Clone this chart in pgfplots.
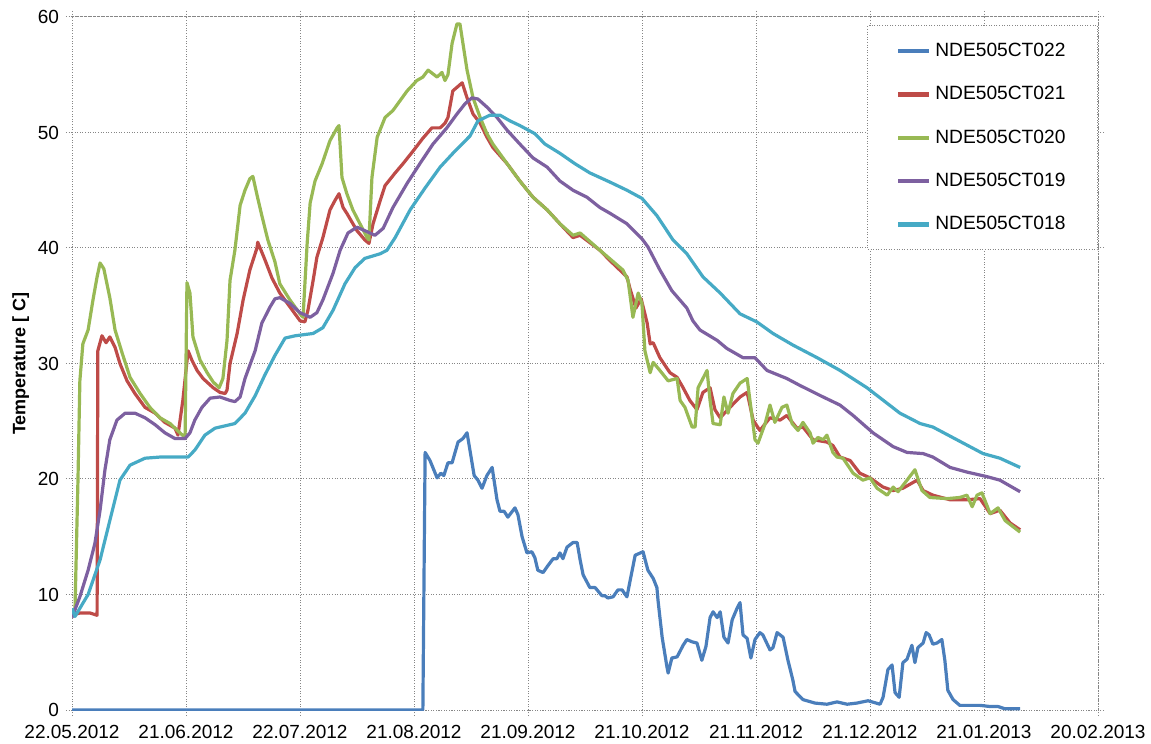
\documentclass[border=0pt]{standalone}
\usepackage{fontspec}
\setmainfont{Liberation Sans}
\usepackage{pgfplots}
\pgfplotsset{compat=1.18}
\definecolor{cBlue}{HTML}{4A7EBB}
\definecolor{cRed}{HTML}{BE4B48}
\definecolor{cGreen}{HTML}{98B954}
\definecolor{cPurple}{HTML}{7D60A0}
\definecolor{cAqua}{HTML}{46AAC5}
\definecolor{gridc}{RGB}{134,134,134}
\begin{document}
\begin{tikzpicture}
\begin{axis}[
  scale only axis,
  width=513pt, height=346.5pt,
  xmin=0, xmax=274, ymin=0, ymax=60,
  xtick={0,30.444,60.889,91.333,121.778,152.222,182.667,213.111,243.556,274},
  xticklabels={22.05.2012,21.06.2012,22.07.2012,21.08.2012,21.09.2012,21.10.2012,21.11.2012,21.12.2012,21.01.2013,20.02.2013},
  ytick={0,10,...,60},
  grid=major,
  grid style={draw=gridc, line width=0.5pt, dash pattern=on 0.5pt off 0.8pt},
  axis line style={draw=gridc, line width=0.5pt, dash pattern=on 0.5pt off 0.8pt},
  tick align=outside,
  major tick length=3pt,
  tick style={draw=gridc, line width=0.5pt, dash pattern=on 0.5pt off 0.8pt},
  /pgf/number format/assume math mode=true,
  tick label style={font=\fontsize{9.5}{11}\selectfont, text=black},
  xticklabel style={yshift=-1.2pt},
  ylabel={\textbf{Temperature [ C]}},
  y label style={at={(axis description cs:-0.05,0.5)}, anchor=center, font=\fontsize{9}{11}\selectfont},
  legend cell align=left,
  legend style={at={(1,0.988)}, anchor=north east, draw=gridc, line width=0.5pt, dash pattern=on 0.5pt off 0.8pt, fill=white,
    font=\fontsize{9.6}{11}\selectfont, inner xsep=14pt, inner ysep=6.5pt, row sep=9.5pt,
    /tikz/every odd column/.append style={column sep=0pt}},
  legend image code/.code={\draw[line width=2.2pt, solid] (0pt,0pt) -- (15.5pt,0pt);},
  every axis plot/.append style={line width=1.6pt, line join=round, solid},
]
% NDE505CT022
\addplot[cBlue] coordinates {
(0,0) (93.7,0) (94.3,22.3) (95.6,21.6) (97.5,20.1) (98.5,20.5) (99.3,20.3) (100.4,21.4) (101.5,21.4)
(103.1,23.2) (104.4,23.5) (105.5,24.0) (107.4,20.3) (108.4,19.9) (109.5,19.2) (110.8,20.3) (112.2,21.0)
(113.5,18.2) (114.3,17.2) (115.4,17.2) (116.4,16.7) (118.3,17.5) (119.1,16.9) (120.2,15.0) (121.5,13.6)
(122.8,13.7) (123.6,13.2) (124.4,12.1) (125.8,11.9) (127.1,12.5) (128.5,13.1) (129.5,13.1) (130.3,13.6)
(131.1,13.1) (132.2,14.1) (133.8,14.5) (134.9,14.5) (135.7,13.0) (136.5,11.7) (138.3,10.6) (139.7,10.6)
(141.5,9.9) (142.3,9.9) (143.1,9.7) (144.5,9.8) (145.8,10.4) (146.9,10.4) (148.2,9.8) (149.6,12.1)
(150.4,13.4) (152.5,13.7) (153.8,12.1) (155.2,11.4) (156.2,10.6) (156.5,9.5) (157.6,6.3) (158.9,3.7)
(159.2,3.2) (160.2,4.5) (161.6,4.6) (163.2,5.6) (164.2,6.1) (165.6,5.9) (166.9,5.8) (168.2,4.3)
(169.3,5.5) (170.4,8.0) (171.2,8.5) (172.3,8.0) (173.1,8.5) (174.1,6.3) (175.2,5.8) (176.3,7.8)
(177.6,8.8) (178.4,9.3) (179.2,6.5) (180.3,6.2) (181.3,4.5) (182.4,6.1) (183.7,6.7) (184.5,6.5)
(186.4,5.2) (187.2,5.4) (188.3,6.7) (189.9,6.3) (191.2,4.3) (192.5,2.6) (193.1,1.6) (195.2,0.9)
(198.4,0.6) (201.6,0.5) (204.3,0.7) (207.0,0.5) (209.6,0.6) (212.6,0.8) (215.8,0.5) (216.6,1.1)
(217.9,3.5) (219.0,3.9) (219.8,1.5) (220.9,1.1) (221.9,4.1) (223.0,4.4) (224.3,5.6) (225.1,4.1)
(225.9,5.4) (227.3,5.8) (228.1,6.7) (228.9,6.5) (229.9,5.7) (231.0,5.8) (232.3,6.1) (233.1,4.3)
(233.9,1.7) (235.3,0.9) (237.1,0.4) (242.5,0.4) (245.2,0.3) (247.3,0.3) (249.2,0.1) (253.2,0.1)
};
\addlegendentry{NDE505CT022}
% NDE505CT021
\addplot[cRed] coordinates {
(0,8.2) (2.1,8.4) (4.8,8.4) (6.7,8.2) (6.9,31.1) (8.0,32.4) (9.1,31.8) (10.1,32.3) (11.5,31.4)
(12.8,30.0) (14.7,28.5) (16.8,27.4) (19.5,26.2) (22.2,25.7) (24.8,24.9) (27.5,24.4) (28.3,23.8)
(29.6,26.8) (31.0,31.1) (32.0,30.3) (33.4,29.4) (35.0,28.7) (37.7,27.9) (39.5,27.5) (40.9,27.4)
(41.4,27.7) (42.2,30.0) (44.1,32.6) (45.7,35.5) (47.5,38.1) (49.4,40.0) (49.6,40.5) (51.5,39.0)
(53.4,37.4) (55.5,36.1) (58.2,34.9) (60.9,33.7) (62.2,33.6) (63.0,34.6) (64.4,37.2) (65.4,39.2)
(67.0,40.9) (68.9,43.3) (70.2,44.1) (71.3,44.7) (72.4,43.5) (73.4,43.0) (76.1,41.5) (78.2,40.7)
(79.3,40.4) (80.4,42.1) (82.3,44.1) (83.6,45.4) (86.3,46.5) (88.4,47.3) (91.1,48.4) (93.7,49.5)
(96.1,50.4) (98.3,50.4) (99.6,50.8) (100.4,51.3) (101.7,53.6) (104.2,54.3) (105.5,53.0) (107.1,51.6)
(109.0,50.8) (110.8,49.6) (112.4,48.7) (116.2,47.3) (119.6,45.8) (123.1,44.4) (126.9,43.3) (130.3,42.1)
(133.8,40.9) (135.7,41.1) (141.0,39.8) (143.7,38.9) (148.2,37.5) (149.0,36.5) (150.6,34.8) (152.0,35.6)
(153.6,33.5) (154.4,31.7) (155.2,31.8) (157.0,30.5) (159.7,29.2) (161.6,28.8) (163.2,27.9) (165.0,26.8)
(166.9,26.0) (168.5,27.5) (170.4,27.9) (171.7,26.0) (173.1,25.3) (175.7,26.2) (178.4,27.1) (180.3,27.5)
(181.9,25.1) (183.7,24.2) (186.4,25.3) (189.1,25.1) (190.9,25.5) (193.6,24.4) (195.2,24.5) (197.9,23.4)
(201.6,23.2) (203.2,22.9) (205.1,21.9) (207.8,21.6) (210.4,20.5) (213.1,20.1) (216.6,19.3) (219.3,19.0)
(221.9,19.2) (225.7,19.9) (227.3,19.0) (229.9,18.6) (234.5,18.2) (239.0,18.2) (242.5,18.3) (245.2,17.0)
(247.8,17.3) (250.5,16.2) (253.2,15.6)
};
\addlegendentry{NDE505CT021}
% NDE505CT020
\addplot[cGreen] coordinates {
(0,8.4) (0.8,8.7) (1.6,20.0) (2.1,28.5) (2.9,31.7) (4.3,32.9) (5.6,35.5) (6.7,37.5) (7.5,38.7)
(8.5,38.2) (10.1,35.7) (11.5,32.9) (13.4,30.9) (15.5,28.8) (18.2,27.4) (20.8,26.2) (23.5,25.3)
(26.2,24.8) (28.8,24.0) (30.2,23.6) (30.7,37.0) (31.5,36.1) (32.3,32.3) (34.2,30.3) (36.1,29.2)
(37.7,28.4) (39.3,27.9) (40.3,28.7) (41.4,32.0) (42.2,37.2) (43.5,39.8) (44.9,43.7) (46.2,45.0)
(47.5,46.0) (48.3,46.2) (49.4,44.6) (50.7,42.8) (52.3,40.7) (54.2,38.8) (55.5,36.9) (58.2,35.5)
(60.9,34.3) (61.7,34.0) (62.8,40.4) (63.6,43.9) (64.9,45.8) (66.8,47.3) (68.9,49.3) (70.8,50.4)
(71.3,50.6) (72.1,46.1) (73.4,44.7) (75.0,43.3) (76.9,42.1) (78.8,40.9) (79.3,40.7) (80.1,46.1)
(81.5,49.6) (83.6,51.3) (85.7,51.9) (89.5,53.6) (92.1,54.5) (93.7,54.8) (95.1,55.4) (97.5,54.8)
(98.8,55.2) (99.6,54.5) (100.4,55.0) (101.5,57.7) (102.8,59.4) (103.6,59.4) (105.5,55.4) (107.1,53.0)
(109.0,51.3) (110.8,49.9) (112.4,49.0) (116.2,47.3) (119.6,45.8) (123.1,44.4) (126.9,43.3) (130.3,42.1)
(133.8,41.1) (135.7,41.3) (141.0,39.8) (147.1,38.1) (148.5,37.2) (149.8,34.0) (151.2,36.1) (152.2,35.2)
(153.0,31.1) (154.4,29.2) (155.2,30.1) (157.0,29.4) (159.2,28.5) (161.6,28.7) (162.4,26.8) (163.7,26.2)
(165.6,24.5) (166.4,24.5) (167.2,27.9) (169.6,29.4) (170.4,26.8) (171.2,24.8) (173.1,24.7) (174.1,27.1)
(175.2,25.7) (176.5,27.4) (178.4,28.3) (180.3,28.7) (182.4,23.4) (183.2,23.1) (185.1,24.8) (186.4,26.4)
(187.7,24.9) (189.6,26.2) (190.9,26.4) (192.3,24.8) (193.9,24.2) (195.2,24.9) (197.1,24.0) (197.9,23.1)
(199.2,23.6) (200.6,23.4) (201.6,23.8) (203.2,22.3) (204.3,21.9) (205.9,21.8) (208.6,20.5) (211.2,19.9)
(213.1,20.1) (215.0,19.2) (217.7,18.6) (219.3,19.3) (220.6,18.9) (223.0,19.9) (225.1,20.8) (227.0,19.0)
(229.1,18.4) (233.7,18.3) (237.1,18.4) (239.0,18.6) (240.4,17.6) (241.7,18.6) (243.0,18.8) (245.2,17.0)
(247.3,17.5) (249.2,16.4) (253.2,15.4)
};
\addlegendentry{NDE505CT020}
% NDE505CT019
\addplot[cPurple] coordinates {
(0,8.0) (2.1,9.8) (4.3,12.1) (6.1,14.4) (7.5,17.3) (8.8,20.8) (10.1,23.4) (12.0,25.1) (14.2,25.7)
(16.8,25.7) (19.5,25.3) (22.2,24.7) (24.8,24.0) (27.5,23.5) (30.2,23.5) (31.5,24.0) (32.8,25.1)
(34.7,26.2) (36.9,27.0) (39.5,27.1) (42.2,26.8) (43.5,26.7) (44.9,27.1) (46.2,28.7) (48.9,31.1)
(50.7,33.5) (52.9,34.9) (54.2,35.6) (55.5,35.7) (58.2,35.2) (60.9,34.4) (63.6,34.0) (65.4,34.4)
(67.0,35.5) (69.7,37.8) (71.6,39.8) (73.7,41.3) (76.1,41.8) (78.2,41.5) (80.9,41.1) (83.1,41.7)
(85.7,43.5) (89.5,45.6) (92.9,47.3) (96.4,49.0) (100.1,50.4) (102.8,51.6) (105.0,52.5) (106.8,53.0)
(108.4,52.9) (110.8,52.2) (113.5,51.3) (116.2,50.2) (119.6,49.0) (123.1,47.8) (126.9,47.0) (130.3,45.8)
(133.8,45.0) (137.5,44.4) (141.0,43.5) (143.7,43.0) (148.2,42.1) (152.2,40.8) (153.8,40.1) (157.0,38.1)
(160.2,36.3) (164.2,34.8) (165.8,33.7) (167.7,32.9) (172.3,32.0) (174.9,31.3) (179.2,30.5)
(182.4,30.5) (185.6,29.4) (190.9,28.7) (194.4,28.1) (200.6,27.1) (205.1,26.4) (208.6,25.5) (213.9,24.0)
(219.3,22.8) (223.0,22.3) (227.3,22.2) (229.9,21.9) (234.5,21.0) (239.0,20.6) (244.4,20.2) (247.8,19.9)
(253.2,18.9)
};
\addlegendentry{NDE505CT019}
% NDE505CT018
\addplot[cAqua] coordinates {
(0,8.8) (0.8,8.1) (4.3,10.0) (7.5,13.0) (10.1,16.4) (12.8,19.9) (15.5,21.2) (19.5,21.8) (23.5,21.9)
(31.0,21.9) (32.8,22.5) (35.5,23.8) (38.2,24.4) (43.5,24.8) (46.2,25.7) (48.9,27.2) (51.5,29.0)
(54.2,30.7) (56.9,32.2) (59.6,32.4) (64.4,32.6) (67.0,33.1) (69.7,34.6) (72.9,36.9) (75.6,38.3)
(78.2,39.1) (82.3,39.5) (84.1,39.8) (86.3,40.9) (90.3,43.3) (94.3,45.2) (98.3,47.0) (102.3,48.4)
(106.3,49.7) (108.4,51.0) (111.6,51.5) (114.3,51.5) (117.0,51.0) (119.6,50.6) (123.6,49.9) (126.3,49.0)
(130.3,48.2) (134.3,47.3) (138.3,46.5) (143.7,45.7) (148.2,45.0) (152.2,44.3) (156.2,42.8) (160.5,40.7)
(164.2,39.5) (168.5,37.5) (173.1,36.1) (178.4,34.3) (182.9,33.6) (187.2,32.6) (192.5,31.6) (199.0,30.5) (205.1,29.4)
(212.3,27.9) (221.1,25.7) (226.5,24.8) (229.9,24.5) (236.3,23.4) (243.3,22.2) (247.8,21.8) (253.2,21.0)
};
\addlegendentry{NDE505CT018}
\end{axis}
\pgfresetboundingbox
\useasboundingbox ([xshift=-36pt,yshift=-17pt]current axis.south west) rectangle ([xshift=26.5pt,yshift=8.5pt]current axis.north east);
\end{tikzpicture}
\end{document}
